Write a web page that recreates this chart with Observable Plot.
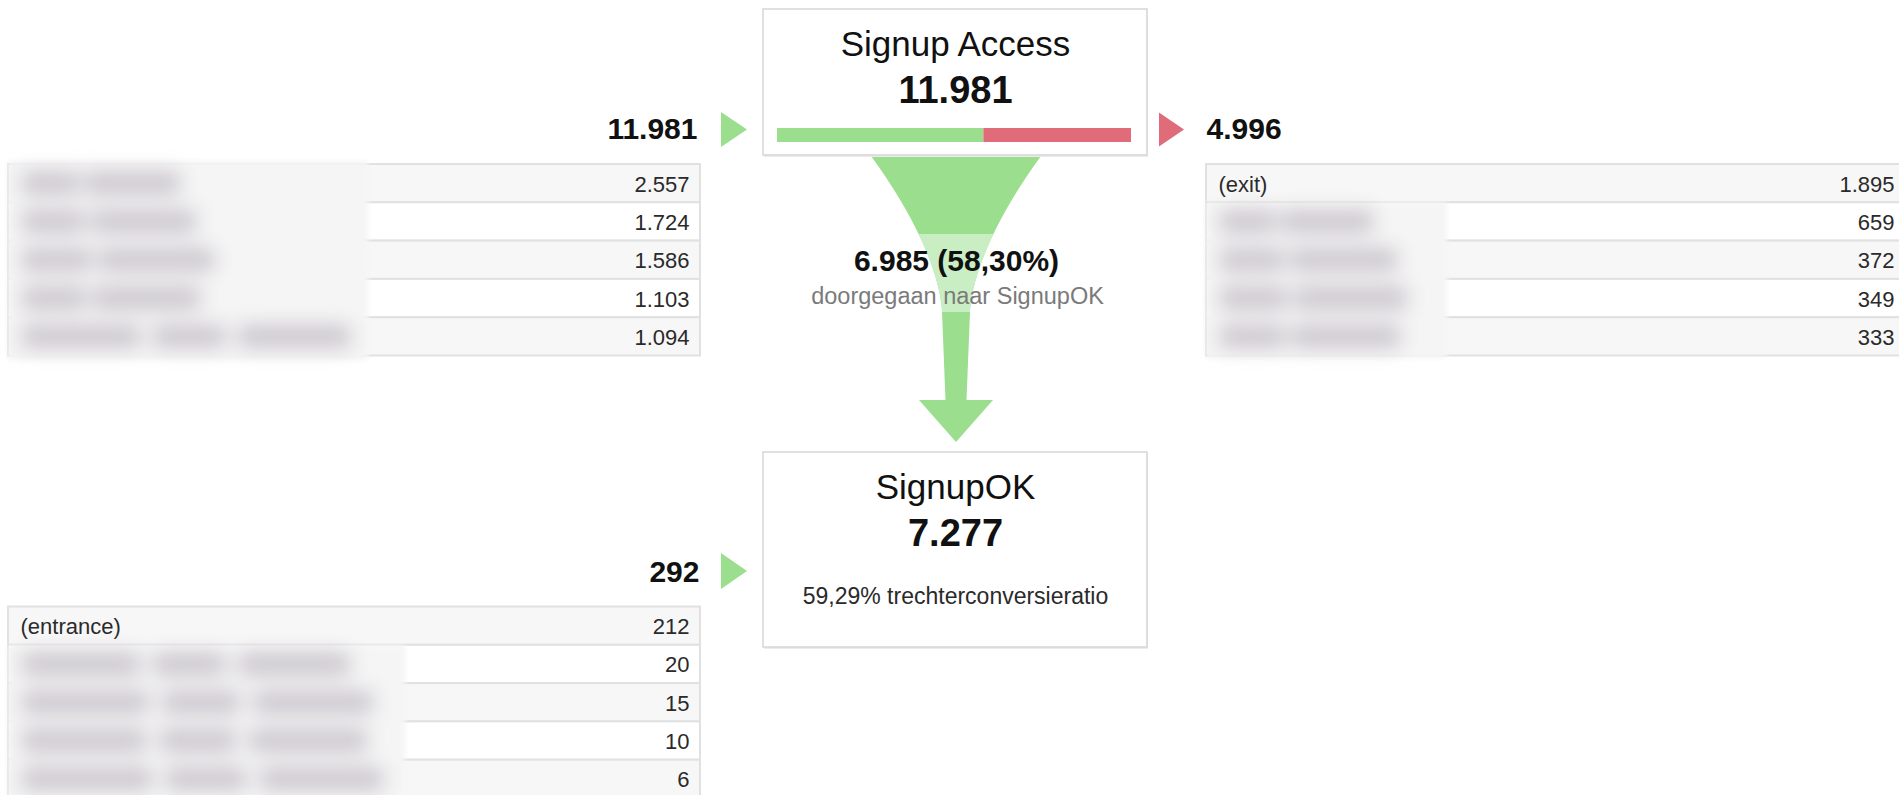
<!DOCTYPE html>
<html><head><meta charset="utf-8">
<script src="https://cdn.jsdelivr.net/npm/d3@7"></script>
<script src="https://cdn.jsdelivr.net/npm/@observablehq/plot@0.6"></script>
<style>html,body{margin:0;padding:0;background:#fff;overflow:hidden} svg{display:block}</style>
</head><body><div id="chart"></div>
<script>
// ---------------- data ----------------
const steps = ["Signup Access", "SignupOK"];
const stepTotals = [11981, 7277];
const stepEntrances = [11981, 292];
const stepExits = [4996];
const proceededCount = 6985;
const proceededPct = "58,30%";
const proceededLabel = "doorgegaan naar SignupOK";
const conversionRate = "59,29%";
const conversionLabel = "trechterconversieratio";
const accessSourceLabels = ["", "", "", "", ""];
const accessSourceValues = [2557, 1724, 1586, 1103, 1094];
const accessExitLabels = ["(exit)", "", "", "", ""];
const accessExitValues = [1895, 659, 372, 349, 333];
const okSourceLabels = ["(entrance)", "", "", "", ""];
const okSourceValues = [212, 20, 15, 10, 6];

// ---------------- layout ----------------
const W = 1899, H = 795;
const FONT = "'Liberation Sans', Arial, Helvetica, sans-serif";
const GREEN = "#9ade8e", GREEN_LIGHT = "#caeec3", RED = "#e06c7a";
const boxX1 = 763, boxX2 = 1147, cx = 956;
const boxTops = [9, 452], boxBottoms = [155, 647];
const rowH = 38.3;
const leftTableX = [8, 700], rightTableX = [1206, 1905];
const barX = [777, 1131], barDy = [119, 133];
// blurred-label extents (x end of each blurred label)
const accessSourceBlur = [180, 196, 214, 200, 350];
const accessExitBlur = [0, 1373, 1397, 1407, 1400];
const okSourceBlur = [0, 350, 373, 367, 383];

const fmt = d3.formatLocale({decimal: ",", thousands: ".", grouping: [3], currency: ["€", ""]}).format(",d");

function table(labels, values, blur, x1, x2, y0) {
  return values.map((v, i) => ({
    label: labels[i], value: fmt(v), x1, x2,
    y1: y0 + i * rowH, y2: y0 + (i + 1) * rowH, yc: y0 + (i + 0.5) * rowH,
    fill: i % 2 === 0 ? "#f7f7f7" : "#ffffff",
    bx1: x1 + 14, bx2: blur[i]
  }));
}
const t1 = table(accessSourceLabels, accessSourceValues, accessSourceBlur, leftTableX[0], leftTableX[1], boxTops[0] + 155);
const t2 = table(accessExitLabels, accessExitValues, accessExitBlur, rightTableX[0], rightTableX[1], boxTops[0] + 155);
const t3 = table(okSourceLabels, okSourceValues, okSourceBlur, leftTableX[0], leftTableX[1], boxTops[1] + 154.5);
const rows = [...t1, ...t2, ...t3];

const blurRegions = [
  {x1: 8, x2: 368, y1: 161, y2: 360},
  {x1: 1206, x2: 1447, y1: t2[1].y1, y2: 358},
  {x1: 8, x2: 405, y1: t3[1].y1, y2: 800}
];
// blurred words: split each obfuscated label into chunks
const blobs = [];
rows.filter(d => d.bx2 > 0 && d.label === "").forEach(d => {
  const len = d.bx2 - d.bx1;
  const cuts = [0, 0.36, 0.4, len > 250 ? 0.62 : 1, 0.66, 1];
  blobs.push({x1: d.bx1, x2: d.bx1 + len * cuts[1], y1: d.yc - 11, y2: d.yc + 11});
  blobs.push({x1: d.bx1 + len * cuts[2], x2: d.bx1 + len * cuts[3], y1: d.yc - 11, y2: d.yc + 11});
  if (len > 250) blobs.push({x1: d.bx1 + len * cuts[4], x2: d.bx1 + len * cuts[5], y1: d.yc - 11, y2: d.yc + 11});
});

// boxes
const boxes = steps.map((s, i) => ({x1: boxX1, x2: boxX2, y1: boxTops[i], y2: boxBottoms[i], title: s, value: fmt(stepTotals[i])}));

// progress bar of step 1 driven by counts
const bar = d3.scaleLinear([0, stepTotals[0]], barX);
const barSegs = [
  {x1: bar(0), x2: bar(proceededCount), fill: GREEN},
  {x1: bar(proceededCount), x2: bar(proceededCount + stepExits[0]), fill: RED}
].map(d => ({...d, y1: boxTops[0] + barDy[0], y2: boxTops[0] + barDy[1]}));

// funnel geometry
const fTop = boxBottoms[0] + 1, fNeck = 312, fStemEnd = 400, fTip = 442;
const funnel = [];
for (let y = fTop; y <= fNeck; y += 2) {
  const t = (y - fTop) / (fNeck - fTop);
  const h = 14 + 71 * Math.pow(1 - t, 1.6);
  funnel.push({y, x1: cx - h, x2: cx + h});
}
const band = funnel.filter(d => d.y >= 233);
const stem = [{y: fNeck, h: 14}, {y: fStemEnd, h: 10.5}].map(d => ({y: d.y, x1: cx - d.h, x2: cx + d.h}));
const head = [{y: fStemEnd, h: 37}, {y: fTip, h: 0}].map(d => ({y: d.y, x1: cx - d.h, x2: cx + d.h}));

// entrance / exit arrows
function rightTri(x, yc, w, h, id) {
  return [{id, x, y1: yc - h / 2, y2: yc + h / 2}, {id, x: x + w, y1: yc, y2: yc}];
}
const greenTris = [...rightTri(721, boxTops[0] + 120.5, 26, 35, "a"), ...rightTri(721, boxTops[1] + 119, 26, 36, "b")];
const redTris = rightTri(1159, boxTops[0] + 120.5, 25, 34, "c");

const entranceLabels = [
  {x: 697, y: boxTops[0] + 129, text: fmt(stepEntrances[0])},
  {x: 699, y: boxTops[1] + 129, text: fmt(stepEntrances[1])}
];
const exitLabels = [{x: 1206, y: boxTops[0] + 129, text: fmt(stepExits[0])}];

const txt = (data, o) => Plot.text(data, {lineAnchor: "bottom", fontFamily: FONT, ...o});

const plot = Plot.plot({
  width: W, height: H,
  marginTop: 0, marginRight: 0, marginBottom: 0, marginLeft: 0,
  x: {type: "linear", domain: [0, W], range: [0, W], axis: null},
  y: {type: "linear", domain: [0, H], range: [0, H], axis: null},
  color: {type: "identity"},
  style: {fontFamily: FONT, background: "#ffffff", overflow: "hidden"},
  marks: [
    // tables
    Plot.rect(rows, {x1: "x1", x2: "x2", y1: "y1", y2: "y2", fill: "fill", stroke: "#e1e1e1", strokeWidth: 2}),
    txt(rows, {x: d => d.x2 - 11, y: d => d.yc + 8, text: "value", textAnchor: "end", fontSize: 22, fill: "#2a2a2a"}),
    txt(rows.filter(d => d.label), {x: d => d.x1 + 12, y: d => d.yc + 8, text: "label", textAnchor: "start", fontSize: 22, fill: "#2a2a2a"}),
    Plot.rect(blurRegions, {x1: "x1", x2: "x2", y1: "y1", y2: "y2", fill: "#f5f5f5", ariaDescription: "soft"}),
    Plot.rect(blobs, {x1: "x1", x2: "x2", y1: "y1", y2: "y2", fill: "#cbc6cd", ariaDescription: "blob"}),
    // funnel
    Plot.areaX(funnel, {y: "y", x1: "x1", x2: "x2", fill: GREEN, curve: "linear"}),
    Plot.areaX(band, {y: "y", x1: "x1", x2: "x2", fill: GREEN_LIGHT, curve: "linear"}),
    Plot.areaX(stem, {y: "y", x1: "x1", x2: "x2", fill: GREEN}),
    Plot.areaX(head, {y: "y", x1: "x1", x2: "x2", fill: GREEN}),
    txt([`${fmt(proceededCount)} (${proceededPct})`], {x: cx, y: 270, text: d => d, textAnchor: "middle", fontSize: 30, fontWeight: "bold", fill: "#111"}),
    txt([proceededLabel], {x: cx + 1, y: 303, text: d => d, textAnchor: "middle", fontSize: 23.5, fill: "#7a7a7a"}),
    // step boxes
    Plot.rect(boxes, {x1: d => d.x1 + 1, x2: d => d.x2 + 1, y1: d => d.y1 + 2, y2: d => d.y2 + 2, fill: "#ececec"}),
    Plot.rect(boxes, {x1: "x1", x2: "x2", y1: "y1", y2: "y2", fill: "#ffffff", stroke: "#d6d6d6", strokeWidth: 1.5}),
    txt(boxes, {x: d => (d.x1 + d.x2) / 2, y: d => d.y1 + 46, text: "title", textAnchor: "middle", fontSize: 35, fill: "#111"}),
    txt(boxes, {x: d => (d.x1 + d.x2) / 2, y: d => d.y1 + 93, text: "value", textAnchor: "middle", fontSize: 38, fontWeight: "bold", fill: "#111"}),
    Plot.rect(barSegs, {x1: "x1", x2: "x2", y1: "y1", y2: "y2", fill: "fill"}),
    txt([`${conversionRate} ${conversionLabel}`], {x: (boxX1 + boxX2) / 2, y: boxTops[1] + 151, text: d => d, textAnchor: "middle", fontSize: 23, fill: "#2a2a2a"}),
    // entrance / exit
    Plot.areaY(greenTris, {x: "x", y1: "y1", y2: "y2", z: "id", fill: GREEN}),
    Plot.areaY(redTris, {x: "x", y1: "y1", y2: "y2", z: "id", fill: RED}),
    txt(entranceLabels, {x: "x", y: "y", text: "text", textAnchor: "end", fontSize: 30, fontWeight: "bold", fill: "#111"}),
    txt(exitLabels, {x: "x", y: "y", text: "text", textAnchor: "start", fontSize: 30, fontWeight: "bold", fill: "#111"})
  ]
});

// soft blur for the obfuscated labels
const svg = d3.select(plot);
const defs = svg.insert("defs", ":first-child");
[["soft", 2.5], ["blob", 10]].forEach(([id, s]) => {
  defs.append("filter").attr("id", id).attr("x", "-30%").attr("y", "-30%").attr("width", "160%").attr("height", "160%")
    .append("feGaussianBlur").attr("stdDeviation", s);
  svg.selectAll(`[aria-description="${id}"]`).attr("filter", `url(#${id})`);
});
document.getElementById("chart").appendChild(plot);
</script>
</body></html>
